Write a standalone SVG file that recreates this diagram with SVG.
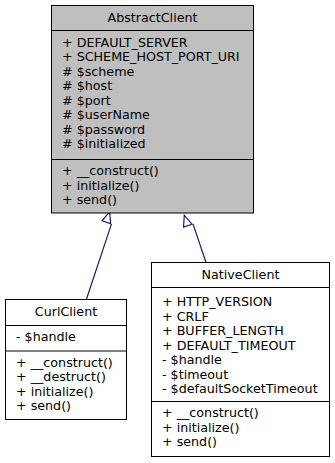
<svg xmlns="http://www.w3.org/2000/svg" width="335" height="463" viewBox="0 0 335 463">
  <style>
    .box { stroke: #000; stroke-width: 1; }
    .abstract { fill: #bfbfbf; }
    .concrete { fill: #fff; }
    .sep { stroke: #000; stroke-width: 1; }
    text { font-family: "DejaVu Sans", "Liberation Sans", sans-serif; font-size: 12.7px; fill: #000; }
    .title { text-anchor: middle; }
    .edge { fill: none; stroke: #191970; stroke-width: 1.2; }
  </style>
  <defs>
    <marker id="inherit" markerUnits="userSpaceOnUse" markerWidth="13" markerHeight="11" refX="0" refY="5.5" orient="auto" viewBox="-1 -5.5 13 11">
      <path d="M0,-4.5 L11,0 L0,4.5 Z" fill="#fff" stroke="#191970" stroke-width="1.2"/>
    </marker>
  </defs>

  <g id="connectors">
    <path class="edge" d="M86.5,299 L111.5,223.9" marker-end="url(#inherit)"/>
    <path class="edge" d="M206,262.5 L193,223.9" marker-end="url(#inherit)"/>
  </g>

  <g id="AbstractClient">
    <rect class="box abstract" x="51.5" y="5.5" width="202" height="207.5"/>
    <line class="sep" x1="51.5" y1="30.5" x2="253.5" y2="30.5"/>
    <line class="sep" x1="51.5" y1="159.5" x2="253.5" y2="159.5"/>
    <text class="title" x="152.5" y="21.8">AbstractClient</text>
    <text x="62" y="46.7">+ DEFAULT_SERVER</text>
    <text x="62" y="61.2">+ SCHEME_HOST_PORT_URI</text>
    <text x="62" y="75.7"># $scheme</text>
    <text x="62" y="90.2"># $host</text>
    <text x="62" y="104.7"># $port</text>
    <text x="62" y="119.2"># $userName</text>
    <text x="62" y="133.7"># $password</text>
    <text x="62" y="148.2"># $initialized</text>
    <text x="62" y="175">+ __construct()</text>
    <text x="62" y="189.5">+ initialize()</text>
    <text x="62" y="204">+ send()</text>
  </g>

  <g id="CurlClient">
    <rect class="box concrete" x="5.5" y="299.5" width="121" height="120"/>
    <line class="sep" x1="5.5" y1="325.5" x2="126.5" y2="325.5"/>
    <line class="sep" x1="5.5" y1="351" x2="126.5" y2="351"/>
    <text class="title" x="66" y="316">CurlClient</text>
    <text x="16" y="341.2">- $handle</text>
    <text x="16" y="366.5">+ __construct()</text>
    <text x="16" y="381">+ __destruct()</text>
    <text x="16" y="395.5">+ initialize()</text>
    <text x="16" y="410">+ send()</text>
  </g>

  <g id="NativeClient">
    <rect class="box concrete" x="151.5" y="262.5" width="178" height="194"/>
    <line class="sep" x1="151.5" y1="287.5" x2="329.5" y2="287.5"/>
    <line class="sep" x1="151.5" y1="401.5" x2="329.5" y2="401.5"/>
    <text class="title" x="240.5" y="279">NativeClient</text>
    <text x="162" y="306.2">+ HTTP_VERSION</text>
    <text x="162" y="320.7">+ CRLF</text>
    <text x="162" y="335.2">+ BUFFER_LENGTH</text>
    <text x="162" y="349.7">+ DEFAULT_TIMEOUT</text>
    <text x="162" y="364.2">- $handle</text>
    <text x="162" y="378.7">- $timeout</text>
    <text x="162" y="393.2">- $defaultSocketTimeout</text>
    <text x="162" y="417.2">+ __construct()</text>
    <text x="162" y="431.7">+ initialize()</text>
    <text x="162" y="446.2">+ send()</text>
  </g>
</svg>
